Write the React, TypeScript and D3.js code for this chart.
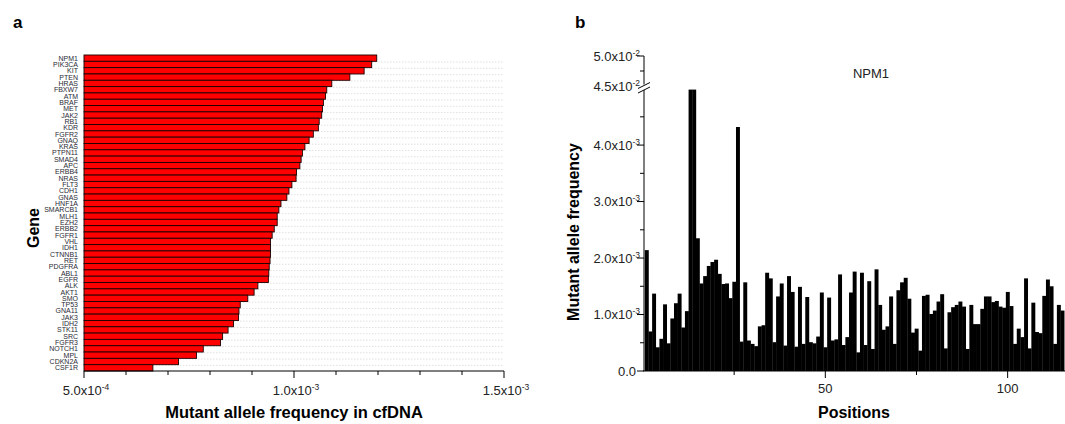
import React from 'react';
import * as d3 from 'd3';

// panel a: genes ordered as in the figure, mean mutant allele frequency
const genes = [
  'NPM1', 'PIK3CA', 'KIT', 'PTEN', 'HRAS', 'FBXW7', 'ATM', 'BRAF', 'MET', 'JAK2',
  'RB1', 'KDR', 'FGFR2', 'GNAQ', 'KRAS', 'PTPN11', 'SMAD4', 'APC', 'ERBB4', 'NRAS',
  'FLT3', 'CDH1', 'GNAS', 'HNF1A', 'SMARCB1', 'MLH1', 'EZH2', 'ERBB2', 'FGFR1', 'VHL',
  'IDH1', 'CTNNB1', 'RET', 'PDGFRA', 'ABL1', 'EGFR', 'ALK', 'AKT1', 'SMO', 'TP53',
  'GNA11', 'JAK3', 'IDH2', 'STK11', 'SRC', 'FGFR3', 'NOTCH1', 'MPL', 'CDKN2A', 'CSF1R',
];
// x 1e-3
const geneAF = [
  1.197, 1.185, 1.167, 1.133, 1.090, 1.078, 1.075, 1.070, 1.068, 1.066,
  1.060, 1.058, 1.046, 1.036, 1.026, 1.020, 1.017, 1.014, 1.006, 1.005,
  0.995, 0.988, 0.983, 0.969, 0.964, 0.960, 0.960, 0.953, 0.948, 0.944,
  0.944, 0.944, 0.943, 0.941, 0.940, 0.939, 0.914, 0.905, 0.890, 0.872,
  0.869, 0.868, 0.856, 0.843, 0.830, 0.825, 0.784, 0.768, 0.725, 0.664,
];
const aMajorTicks = [0.5e-3, 1.0e-3, 1.5e-3];
const aTickLabels = [['5.0x10', '-4'], ['1.0x10', '-3'], ['1.5x10', '-3']];

// panel b: NPM1 per position, x 1e-3 (positions 13,14 are above the axis break)
const positionAF = [
  2.14, 0.70, 1.37, 0.42, 0.57, 1.18, 0.49, 0.93, 1.20, 1.37,
  0.77, 1.06, 44.9, 44.9, 2.35, 1.55, 1.68, 1.86, 1.93, 1.97,
  1.72, 1.54, 1.55, 1.29, 1.58, 4.32, 0.52, 1.57, 0.54, 0.48,
  0.44, 0.79, 0.81, 1.74, 1.64, 0.51, 1.32, 1.55, 0.45, 1.68,
  1.40, 0.43, 1.49, 0.48, 1.31, 0.51, 0.49, 0.61, 1.39, 0.42,
  1.30, 0.54, 0.56, 1.71, 0.46, 0.60, 1.39, 1.76, 0.33, 1.74,
  0.46, 1.59, 0.39, 1.80, 1.17, 0.73, 0.79, 1.32, 0.48, 1.43,
  1.57, 1.65, 1.28, 0.68, 0.75, 0.36, 1.33, 1.35, 1.01, 1.07,
  1.23, 1.36, 0.40, 1.04, 1.13, 1.17, 1.23, 1.14, 0.39, 1.17,
  0.83, 0.83, 1.10, 1.32, 1.32, 1.22, 1.24, 1.14, 1.12, 1.40,
  1.15, 0.48, 0.75, 0.60, 1.64, 0.40, 1.21, 0.69, 0.67, 1.33,
  1.62, 1.50, 0.48, 1.17, 1.07,
];
const bLowerTicks = [0, 1e-3, 2e-3, 3e-3, 4e-3];
const bLowerLabels = [['0.0', ''], ['1.0x10', '-3'], ['2.0x10', '-3'], ['3.0x10', '-3'], ['4.0x10', '-3']];
const bUpperTicks = [0.045, 0.05];
const bUpperLabels = [['4.5x10', '-2'], ['5.0x10', '-2']];
const bXTicks = [50, 100];

const FONT = 'Arial, "Liberation Sans", Helvetica, sans-serif';

const Label = ({ x, y, parts, anchor = 'middle', size = 12 }) => (
  <text x={x} y={y} textAnchor={anchor} fontSize={size} fill="#222">
    {parts[0]}
    {parts[1] ? <tspan dy={-5} fontSize={8.5}>{parts[1]}</tspan> : null}
  </text>
);

const App = () => {
  // panel a scales
  const xA = d3.scaleLinear().domain([0.5e-3, 1.5e-3]).range([84, 504]);
  const yA = d3.scaleBand().domain(genes).range([55, 371]).padding(0);
  const aMinor = d3.range(6, 15).map(d => d * 1e-4).filter(v => !aMajorTicks.some(t => Math.abs(t - v) < 1e-9));

  // panel b scales with a break between 5e-3 and 4.5e-2
  const xB = d3.scaleLinear().domain([0, 116]).range([643, 1066]);
  const yLow = d3.scaleLinear().domain([0, 0.005]).range([371, 88.6]);
  const yHigh = d3.scaleLinear().domain([0.045, 0.05]).range([86, 56]);
  const yB = v => (v <= 0.005 ? yLow(v) : v >= 0.045 ? yHigh(v) : 89.6);
  const bMinor = d3.range(1, 10, 2).map(d => d * 0.5e-3);
  const axisX = 644;

  return (
    <svg width={1065} height={424} style={{ position: 'absolute', left: 0, top: 0, fontFamily: FONT }}>
      <rect width={1065} height={424} fill="#fff" />

      {/* ---------- panel a ---------- */}
      <text x={13} y={28} fontSize={17} fontWeight="bold">a</text>
      {genes.slice(1).map(g => (
        <line key={'g' + g} x1={84} x2={504} y1={yA(g) + 0.7} y2={yA(g) + 0.7}
          stroke="#d8d8d8" strokeWidth={0.8} strokeDasharray="1.5,1.5" />
      ))}
      {genes.map((g, i) => (
        <rect key={g} x={xA(0.5e-3)} y={yA(g)} width={xA(geneAF[i] * 1e-3) - xA(0.5e-3)}
          height={yA.bandwidth()} fill="#ff0000" stroke="#1a0000" strokeWidth={0.9} />
      ))}
      {genes.map(g => (
        <text key={'l' + g} x={78} y={yA(g) + yA.bandwidth() / 2} textAnchor="end"
          dominantBaseline="central" fontSize={7} fill="#2a2a35">{g}</text>
      ))}
      <line x1={84} x2={504} y1={371} y2={371} stroke="#000" strokeWidth={1} />
      {aMajorTicks.map(t => (
        <line key={'at' + t} x1={xA(t)} x2={xA(t)} y1={371} y2={378} stroke="#000" />
      ))}
      {aMinor.map(t => (
        <line key={'am' + t} x1={xA(t)} x2={xA(t)} y1={371} y2={375} stroke="#000" />
      ))}
      {aMajorTicks.map((t, i) => (
        <Label key={'al' + t} x={xA(t) + 2} y={395} parts={aTickLabels[i]} size={13} />
      ))}
      <text x={294} y={418} textAnchor="middle" fontSize={16.5} fontWeight="bold">Mutant allele frequency in cfDNA</text>
      <text transform="translate(33,228) rotate(-90)" textAnchor="middle" dominantBaseline="central"
        fontSize={16} fontWeight="bold">Gene</text>

      {/* ---------- panel b ---------- */}
      <text x={575} y={28} fontSize={17} fontWeight="bold">b</text>
      <text x={871} y={78} textAnchor="middle" fontSize={13} fill="#222">NPM1</text>
      {positionAF.map((v, i) => {
        const p = i + 1;
        return (
          <rect key={'b' + p} x={xB(p - 0.5)} width={xB(p + 0.5) - xB(p - 0.5) + 0.3}
            y={yB(v * 1e-3)} height={371 - yB(v * 1e-3)} fill="#000" />
        );
      })}
      {/* y axis, lower and upper segments */}
      <line x1={axisX} x2={axisX} y1={371} y2={90} stroke="#000" />
      <line x1={axisX} x2={axisX} y1={84.5} y2={56} stroke="#000" />
      <line x1={638} x2={650} y1={88.5} y2={82.5} stroke="#000" />
      <line x1={638} x2={650} y1={93} y2={87} stroke="#000" />
      {bLowerTicks.map((t, i) => (
        <g key={'bt' + t}>
          <line x1={axisX - 7} x2={axisX} y1={yLow(t)} y2={yLow(t)} stroke="#000" />
          <Label x={bLowerLabels[i][1] ? 640 : 636} y={yLow(t) + 4.5} parts={bLowerLabels[i]} anchor="end" size={13} />
        </g>
      ))}
      {bMinor.map(t => (
        <line key={'bm' + t} x1={axisX - 4} x2={axisX} y1={yLow(t)} y2={yLow(t)} stroke="#000" />
      ))}
      <line x1={axisX - 7} x2={axisX} y1={yHigh(0.05)} y2={yHigh(0.05)} stroke="#000" />
      <line x1={axisX - 4} x2={axisX} y1={yHigh(0.0475)} y2={yHigh(0.0475)} stroke="#000" />
      {bUpperTicks.map((t, i) => (
        <Label key={'bu' + t} x={640} y={yHigh(t) + 4.5} parts={bUpperLabels[i]} anchor="end" size={13} />
      ))}
      {/* x axis */}
      <line x1={643} x2={1065} y1={371} y2={371} stroke="#000" />
      {bXTicks.map(t => (
        <g key={'bx' + t}>
          <line x1={xB(t)} x2={xB(t)} y1={371} y2={378} stroke="#000" />
          <text x={xB(t)} y={393} textAnchor="middle" fontSize={13} fill="#222">{t}</text>
        </g>
      ))}
      {[25, 75].map(t => (
        <line key={'bxm' + t} x1={xB(t)} x2={xB(t)} y1={371} y2={375} stroke="#000" />
      ))}
      <text x={854} y={418} textAnchor="middle" fontSize={16} fontWeight="bold">Positions</text>
      <text transform="translate(573,232) rotate(-90)" textAnchor="middle" dominantBaseline="central"
        fontSize={16} fontWeight="bold">Mutant allele frequency</text>
    </svg>
  );
};

export default App;
